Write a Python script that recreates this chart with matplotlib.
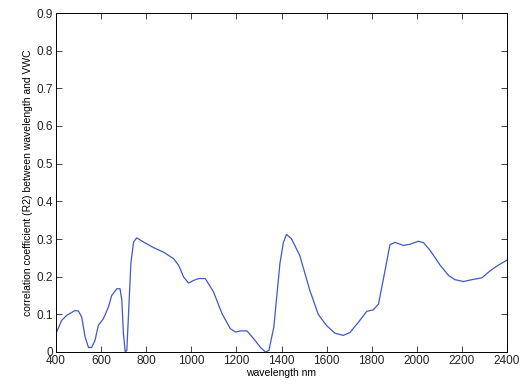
import matplotlib
matplotlib.use("Agg")
import matplotlib.pyplot as plt

plt.rcParams['font.family'] = ['Liberation Sans', 'DejaVu Sans']

wavelength = [400, 425, 447, 484, 499, 514, 529, 544, 558, 573, 588, 610, 633, 647,
              670, 684, 692, 699, 707, 714, 721, 732, 744, 758, 788, 833, 877, 921,
              944, 966, 988, 1010, 1033, 1062, 1099, 1136, 1173, 1196, 1218, 1247,
              1277, 1307, 1329, 1344, 1366, 1393, 1408, 1422, 1444, 1481, 1526, 1563,
              1600, 1637, 1674, 1704, 1741, 1778, 1807, 1830, 1859, 1881, 1904, 1941,
              1970, 2007, 2030, 2059, 2104, 2141, 2170, 2207, 2244, 2289, 2326, 2363, 2400]
r2 = [0.049, 0.084, 0.097, 0.110, 0.109, 0.093, 0.040, 0.012, 0.012, 0.031, 0.071,
      0.088, 0.120, 0.150, 0.168, 0.168, 0.137, 0.049, 0.000, 0.004, 0.093, 0.235,
      0.292, 0.303, 0.292, 0.277, 0.265, 0.248, 0.230, 0.199, 0.183, 0.190, 0.195,
      0.195, 0.159, 0.102, 0.062, 0.053, 0.056, 0.056, 0.035, 0.012, 0.000, 0.004,
      0.066, 0.235, 0.290, 0.312, 0.301, 0.256, 0.163, 0.100, 0.070, 0.050, 0.044,
      0.052, 0.079, 0.108, 0.112, 0.127, 0.216, 0.285, 0.291, 0.283, 0.286, 0.294,
      0.290, 0.270, 0.230, 0.203, 0.192, 0.187, 0.192, 0.197, 0.216, 0.231, 0.244]

xticks = [400, 600, 800, 1000, 1200, 1400, 1600, 1800, 2000, 2200, 2400]
yticks = [0, 0.1, 0.2, 0.3, 0.4, 0.5, 0.6, 0.7, 0.8, 0.9]
yticklabels = ['0', '0.1', '0.2', '0.3', '0.4', '0.5', '0.6', '0.7', '0.8', '0.9']

fig = plt.figure(figsize=(5.22, 3.85), dpi=100)
ax = fig.add_axes([56/522, 33/385, 451/522, 339/385])
ax.plot(wavelength, r2, color='#3c5ac8', linewidth=0.9)
ax.set_xlim(400, 2400)
ax.set_ylim(0, 0.9)
ax.set_xticks(xticks)
ax.set_xticklabels([str(t) for t in xticks])
ax.set_yticks(yticks)
ax.set_yticklabels(yticklabels)
ax.tick_params(direction='in', top=True, right=True, length=4, width=0.6,
               labelsize=8.5, pad=2, colors='#222222')
for s in ax.spines.values():
    s.set_linewidth(0.7)
ax.set_xlabel('wavelength nm', fontsize=7.5, labelpad=1)
ax.set_ylabel('correlation coefficient (R2) between wavelength and VWC', fontsize=7.5, labelpad=3)
fig.savefig('out.png', dpi=100)
